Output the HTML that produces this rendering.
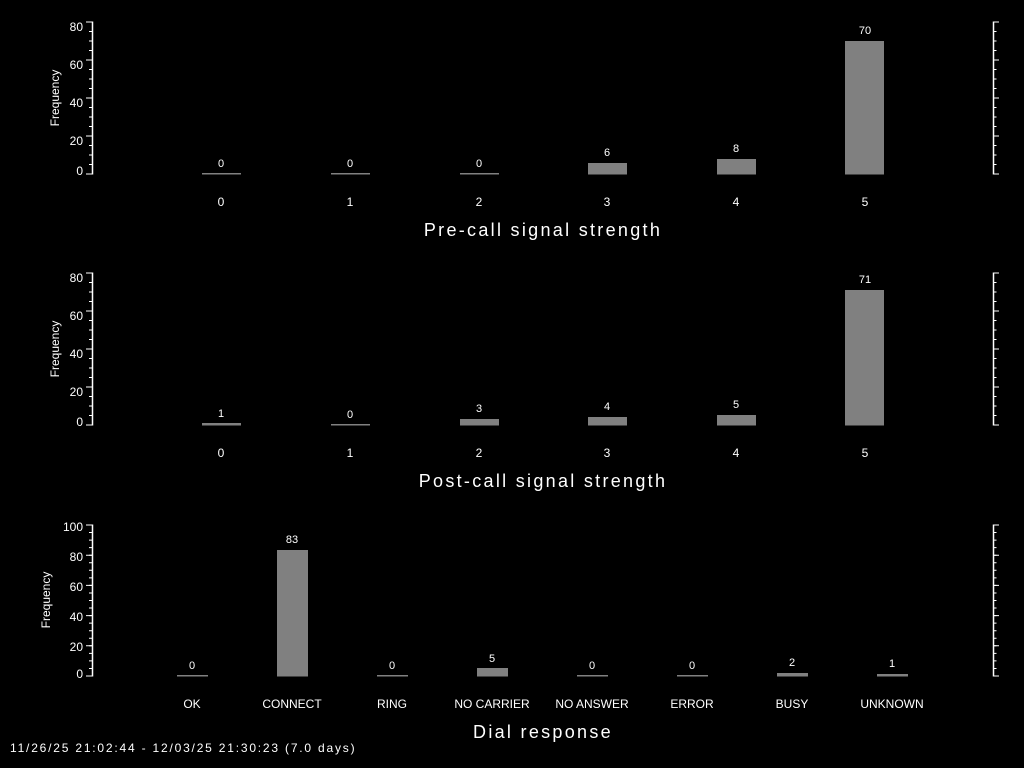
<!DOCTYPE html>
<html><head><style>
html,body{margin:0;padding:0;background:#000;}
svg{display:block;}
text{font-family:"Liberation Sans",sans-serif;fill:#fff;}
</style></head><body>
<svg width="1024" height="768" viewBox="0 0 1024 768" xmlns="http://www.w3.org/2000/svg">
<rect width="1024" height="768" fill="#000"/>
<g stroke="#fff" fill="none">
<line x1="92.5" y1="21.5" x2="92.5" y2="174.5" stroke-width="1.5"/>
<line x1="90.5" y1="174.5" x2="90.5" y2="21" stroke-width="3" stroke-dasharray="1 8.5"/>
<line x1="89" y1="174.5" x2="89" y2="21" stroke-width="6" stroke-dasharray="1 37"/>
<line x1="993.5" y1="21.5" x2="993.5" y2="174.5" stroke-width="1.5"/>
<line x1="995" y1="174.5" x2="995" y2="21" stroke-width="3" stroke-dasharray="1 8.5"/>
<line x1="996" y1="174.5" x2="996" y2="21" stroke-width="6" stroke-dasharray="1 37"/>
<line x1="92.5" y1="272.5" x2="92.5" y2="425.5" stroke-width="1.5"/>
<line x1="90.5" y1="425.5" x2="90.5" y2="272" stroke-width="3" stroke-dasharray="1 8.5"/>
<line x1="89" y1="425.5" x2="89" y2="272" stroke-width="6" stroke-dasharray="1 37"/>
<line x1="993.5" y1="272.5" x2="993.5" y2="425.5" stroke-width="1.5"/>
<line x1="995" y1="425.5" x2="995" y2="272" stroke-width="3" stroke-dasharray="1 8.5"/>
<line x1="996" y1="425.5" x2="996" y2="272" stroke-width="6" stroke-dasharray="1 37"/>
<line x1="92.5" y1="524.5" x2="92.5" y2="676.5" stroke-width="1.5"/>
<line x1="90.5" y1="676.5" x2="90.5" y2="524" stroke-width="3" stroke-dasharray="1 6.55"/>
<line x1="89" y1="676.5" x2="89" y2="524" stroke-width="6" stroke-dasharray="1 29.2"/>
<line x1="993.5" y1="524.5" x2="993.5" y2="676.5" stroke-width="1.5"/>
<line x1="995" y1="676.5" x2="995" y2="524" stroke-width="3" stroke-dasharray="1 6.55"/>
<line x1="996" y1="676.5" x2="996" y2="524" stroke-width="6" stroke-dasharray="1 29.2"/>
</g>
<g font-size="12" text-anchor="end">
<text x="83" y="31">80</text><text x="83" y="69">60</text><text x="83" y="107">40</text><text x="83" y="145">20</text><text x="83" y="175">0</text>
<text x="83" y="282">80</text><text x="83" y="320">60</text><text x="83" y="358">40</text><text x="83" y="396">20</text><text x="83" y="426">0</text>
<text x="83" y="531">100</text><text x="83" y="561">80</text><text x="83" y="591">60</text><text x="83" y="621">40</text><text x="83" y="651">20</text><text x="83" y="678">0</text>
</g>
<g font-size="12" text-anchor="middle">
<text transform="translate(59,98) rotate(-90)">Frequency</text>
<text transform="translate(59,349) rotate(-90)">Frequency</text>
<text transform="translate(50,600) rotate(-90)">Frequency</text>
</g>
<g fill="#808080">
<rect x="202" y="173" width="39" height="1.5"/>
<rect x="331" y="173" width="39" height="1.5"/>
<rect x="460" y="173" width="39" height="1.5"/>
<rect x="588" y="163" width="39" height="11.5"/>
<rect x="717" y="159" width="39" height="15.5"/>
<rect x="845" y="41" width="39" height="133.5"/>
<rect x="202" y="423" width="39" height="2.5"/>
<rect x="331" y="424" width="39" height="1.5"/>
<rect x="460" y="419" width="39" height="6.5"/>
<rect x="588" y="417" width="39" height="8.5"/>
<rect x="717" y="415" width="39" height="10.5"/>
<rect x="845" y="290" width="39" height="135.5"/>
<rect x="177" y="675" width="31" height="1.5"/>
<rect x="277" y="550" width="31" height="126.5"/>
<rect x="377" y="675" width="31" height="1.5"/>
<rect x="477" y="668" width="31" height="8.5"/>
<rect x="577" y="675" width="31" height="1.5"/>
<rect x="677" y="675" width="31" height="1.5"/>
<rect x="777" y="673" width="31" height="3.5"/>
<rect x="877" y="674" width="31" height="2.5"/>
</g>
<g font-size="11" text-anchor="middle">
<text x="221" y="167">0</text><text x="350" y="167">0</text><text x="479" y="167">0</text><text x="607" y="156">6</text><text x="736" y="152">8</text><text x="865" y="34">70</text>
<text x="221" y="417">1</text><text x="350" y="418">0</text><text x="479" y="412">3</text><text x="607" y="410">4</text><text x="736" y="408">5</text><text x="865" y="283">71</text>
<text x="192" y="669">0</text><text x="292" y="543">83</text><text x="392" y="669">0</text><text x="492" y="662">5</text><text x="592" y="669">0</text><text x="692" y="669">0</text><text x="792" y="666">2</text><text x="892" y="667">1</text>
</g>
<g font-size="12" text-anchor="middle">
<text x="221" y="206">0</text><text x="350" y="206">1</text><text x="479" y="206">2</text><text x="607" y="206">3</text><text x="736" y="206">4</text><text x="865" y="206">5</text>
<text x="221" y="457">0</text><text x="350" y="457">1</text><text x="479" y="457">2</text><text x="607" y="457">3</text><text x="736" y="457">4</text><text x="865" y="457">5</text>
<text x="192" y="708">OK</text><text x="292" y="708">CONNECT</text><text x="392" y="708">RING</text><text x="492" y="708">NO CARRIER</text><text x="592" y="708">NO ANSWER</text><text x="692" y="708">ERROR</text><text x="792" y="708">BUSY</text><text x="892" y="708">UNKNOWN</text>
</g>
<g font-size="18" text-anchor="middle" letter-spacing="2.3">
<text x="543" y="236">Pre-call signal strength</text>
<text x="543" y="487">Post-call signal strength</text>
<text x="543" y="738">Dial response</text>
</g>
<text x="10" y="752" font-size="12" letter-spacing="1.8">11/26/25 21:02:44 - 12/03/25 21:30:23 (7.0 days)</text>
</svg>
</body></html>
